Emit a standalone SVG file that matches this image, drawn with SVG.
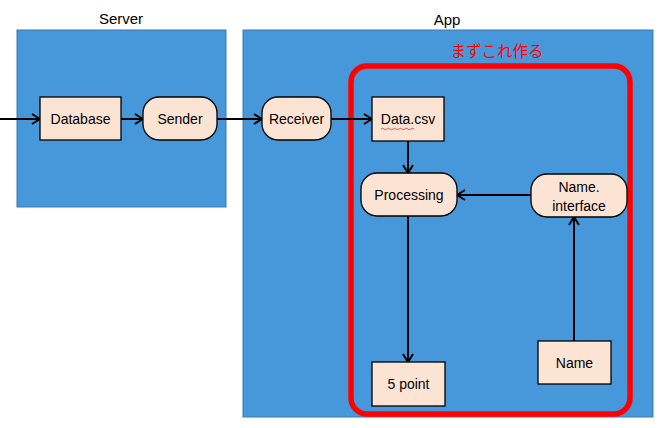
<svg xmlns="http://www.w3.org/2000/svg" width="661" height="428" viewBox="0 0 661 428">
<defs>
<style>
.box{fill:#4798DA;stroke:#3A78B0;stroke-width:1}
.node{fill:#FCE4D4;stroke:#000;stroke-width:1.3}
.t{font-family:"Liberation Sans",Arial,sans-serif;font-size:14px;fill:#000;text-anchor:middle}
.h{font-size:15px}
.c{stroke:#000;stroke-width:2;fill:none;marker-end:url(#ah)}
</style>
<marker id="ah" viewBox="0 0 10 12" refX="9" refY="6" markerWidth="10" markerHeight="12" markerUnits="userSpaceOnUse" orient="auto">
<path d="M1,1 L9,6 L1,11" fill="none" stroke="#000" stroke-width="2"/>
</marker>
</defs>
<rect width="661" height="428" fill="#fff"/>
<g id="server">
<rect class="box" x="17" y="30" width="209" height="177"/>
<text class="t h" x="121" y="24">Server</text>
</g>
<g id="app">
<rect class="box" x="243" y="30" width="410" height="387"/>
<text class="t h" x="447" y="25">App</text>
</g>
<g id="focus">
<rect x="351" y="66" width="279" height="348" rx="16" fill="none" stroke="#FF0000" stroke-width="5.5"/>
<text x="497" y="57" font-family="'Noto Sans CJK JP',sans-serif" font-size="15.5" fill="#FF0000" text-anchor="middle">まずこれ作る</text>
</g>
<g id="connectors">
<path class="c" d="M0,119 H40"/>
<path class="c" d="M121,119 H143"/>
<path class="c" d="M217,119 H262"/>
<path class="c" d="M331,119 H372"/>
<path class="c" d="M408,141 V173"/>
<path class="c" d="M531,195 H457"/>
<path class="c" d="M408,216 V362"/>
<path class="c" d="M574,341 V217"/>
</g>
<g id="database">
<rect class="node" x="40" y="97" width="81" height="43"/>
<text class="t" x="80.5" y="124">Database</text>
</g>
<g id="sender">
<rect class="node" x="143" y="97" width="74" height="43" rx="16"/>
<text class="t" x="180" y="124">Sender</text>
</g>
<g id="receiver">
<rect class="node" x="262" y="97" width="69" height="43" rx="16"/>
<text class="t" x="296.5" y="124">Receiver</text>
</g>
<g id="datacsv">
<rect class="node" x="372" y="97" width="72" height="44"/>
<text class="t" x="408" y="124">Data.csv</text>
<path d="M381,129 q1.5,-1.5 3,0 t3,0 t3,0 t3,0 t3,0 t3,0 t3,0 t3,0 t3,0 t3,0 t3,0" fill="none" stroke="#E03030" stroke-width="0.8"/>
</g>
<g id="processing">
<rect class="node" x="361" y="173" width="96" height="43" rx="16"/>
<text class="t" x="409" y="200">Processing</text>
</g>
<g id="nameinterface">
<rect class="node" x="531" y="174" width="96" height="43" rx="16"/>
<text class="t" x="579" y="192">Name.</text>
<text class="t" x="579" y="211">interface</text>
</g>
<g id="fivepoint">
<rect class="node" x="372" y="362" width="73" height="44"/>
<text class="t" x="408.5" y="389">5 point</text>
</g>
<g id="name">
<rect class="node" x="538" y="341" width="73" height="43"/>
<text class="t" x="574.5" y="368">Name</text>
</g>
</svg>
